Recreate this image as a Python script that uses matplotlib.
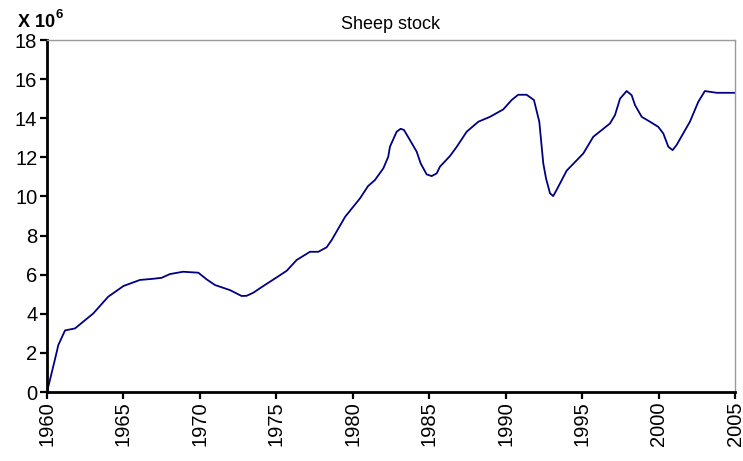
import matplotlib
matplotlib.use("Agg")
import matplotlib.pyplot as plt

plt.rcParams['font.family'] = ['Liberation Sans', 'DejaVu Sans']

years = [1960.0, 1960.5, 1960.74, 1961.18, 1961.83, 1963.03, 1964.0, 1965.0, 1966.08,
         1966.95, 1967.5, 1968.04, 1968.9, 1969.9, 1970.44, 1970.99, 1971.97, 1972.73,
         1973.06, 1973.5, 1974.15, 1975.02, 1975.68, 1976.33, 1977.2, 1977.75, 1978.29,
         1978.62, 1979.5, 1980.47, 1981.0, 1981.45, 1982.0, 1982.32, 1982.43, 1982.87,
         1983.13, 1983.35, 1983.74, 1984.18, 1984.44, 1984.83, 1985.16, 1985.49, 1985.7,
         1986.36, 1986.8, 1987.45, 1988.21, 1988.97, 1989.84, 1990.39, 1990.82, 1991.37,
         1991.85, 1992.2, 1992.46, 1992.64, 1992.9, 1993.11, 1993.33, 1993.99, 1995.08,
         1995.73, 1996.82, 1997.15, 1997.48, 1997.91, 1998.24, 1998.46, 1998.9, 1999.44,
         1999.98, 2000.31, 2000.64, 2000.92, 2001.18, 2002.05, 2002.6, 2003.03, 2003.8,
         2005.0]
sheep = [0.0, 1.6, 2.4, 3.15, 3.25, 4.02, 4.87, 5.42, 5.73,
         5.79, 5.84, 6.03, 6.15, 6.10, 5.76, 5.47, 5.21, 4.91,
         4.92, 5.08, 5.42, 5.86, 6.2, 6.75, 7.17, 7.17, 7.4,
         7.77, 8.96, 9.9, 10.53, 10.84, 11.44, 12.03, 12.54, 13.31,
         13.46, 13.4, 12.88, 12.29, 11.69, 11.13, 11.04, 11.18, 11.52,
         12.07, 12.54, 13.31, 13.82, 14.07, 14.45, 14.93, 15.2, 15.2,
         14.93, 13.82, 11.69, 10.92, 10.16, 10.02, 10.33, 11.32, 12.2,
         13.05, 13.73, 14.16, 15.0, 15.39, 15.18, 14.67, 14.07, 13.82,
         13.56, 13.22, 12.54, 12.37, 12.63, 13.82, 14.84, 15.39, 15.3,
         15.3]

x_ticks = list(range(1960, 2006, 5))
y_ticks = list(range(0, 19, 2))

fig = plt.figure(figsize=(7.43, 4.61), dpi=100)
ax = fig.add_axes([47/743, 69/461, 688/743, 352/461])

ax.plot(years, sheep, color='#000080', lw=1.3, solid_joinstyle='round')

ax.set_xlim(1960, 2005)
ax.set_ylim(0, 18)
ax.set_xticks(x_ticks)
ax.set_xticklabels([str(t) for t in x_ticks], rotation=90, fontsize=14.5)
ax.set_yticks(y_ticks)
ax.set_yticklabels([str(t) for t in y_ticks], fontsize=14.5)
ax.tick_params(direction='out', length=5, width=1.6, pad=2)

for s in ['left', 'bottom']:
    ax.spines[s].set_linewidth(2)
    ax.spines[s].set_color('black')
for s in ['top', 'right']:
    ax.spines[s].set_linewidth(1)
    ax.spines[s].set_color('#9a9a9a')

ax.set_title('Sheep stock', fontsize=13, pad=8)

fig.text(18/743, 1 - 27/461, 'X 10', fontsize=13, fontweight='bold', ha='left', va='baseline')
fig.text(56/743, 1 - 18/461, '6', fontsize=9.5, fontweight='bold', ha='left', va='baseline')

fig.savefig('out.png', dpi=100)
